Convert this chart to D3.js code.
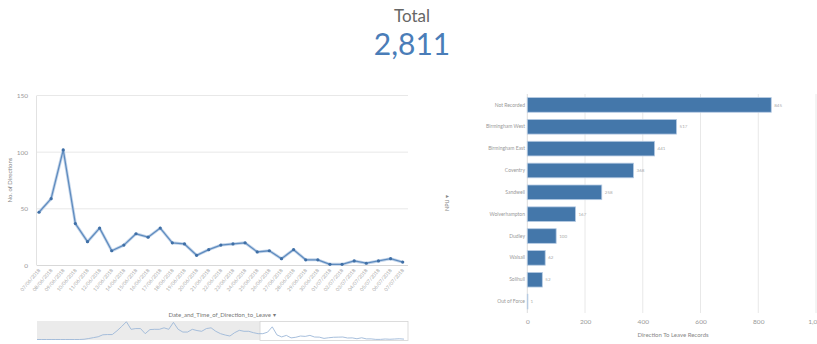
<!DOCTYPE html>
<html><head><meta charset="utf-8">
<script src="https://cdn.jsdelivr.net/npm/d3@7"></script>
<style>
html,body{margin:0;padding:0;background:#fff;overflow:hidden;}
svg{display:block;font-family:Lato, "Open Sans", sans-serif;}
</style></head><body>
<svg id="c" width="817" height="344"></svg>
<script>
// ---- data ----
const kpiTitle = "Total";
const kpiValue = 2811;

const dates = ["07/06/2018","08/06/2018","09/06/2018","10/06/2018","11/06/2018","12/06/2018","13/06/2018","14/06/2018","15/06/2018","16/06/2018","17/06/2018","18/06/2018","19/06/2018","20/06/2018","21/06/2018","22/06/2018","23/06/2018","24/06/2018","25/06/2018","26/06/2018","27/06/2018","28/06/2018","29/06/2018","30/06/2018","01/07/2018","02/07/2018","03/07/2018","04/07/2018","05/07/2018","06/07/2018","07/07/2018"];
const directions = [47,59,102,37,21,33,13,18,28,25,33,20,19,9,14,18,19,20,12,13,6,14,5,5,1,1,4,2,4,6,3];
const lineTicks = [0,50,100,150];

// navigator: earlier days (before the selected range) followed by the selected range
const earlierDirections = [0,0,0,0,0,0,0,0,0,0,2,8,15,22,38,40,40,70,105,143,82,88,88,47,80,82,82,94,82,138,82,60,60,82,72,66,88,94,66,47,36,28,55,74,66,66,55,47];
const navValues = earlierDirections.concat(directions);

const npu = ["Not Recorded","Birmingham West","Birmingham East","Coventry","Sandwell","Wolverhampton","Dudley","Walsall","Solihull","Out of Force"];
const npuRecords = [845,517,441,368,258,167,100,62,52,1];
const barTicks = [0,200,400,600,800,1000];

// ---- styles ----
const blue = "#4477aa";
const grid = "#e8e8e8";
const txt = "#999";

const svg = d3.select("#c");

// KPI
svg.append("text").attr("x",412).attr("y",22).attr("text-anchor","middle")
  .attr("font-size",17).attr("fill","#666").text(kpiTitle);
svg.append("text").attr("x",412).attr("y",55).attr("text-anchor","middle")
  .attr("font-size",30).attr("fill","#4a7db8").text(d3.format(",")(kpiValue));

// ---- line chart ----
const lx = d3.scaleLinear().domain([0, dates.length-1]).range([39, 402.7]);
const ly = d3.scaleLinear().domain([0,150]).range([265.5, 95.5]);
const L = svg.append("g");

L.selectAll("line.g").data(lineTicks.slice(1)).join("line")
  .attr("x1",37).attr("x2",408).attr("y1",d=>ly(d)).attr("y2",d=>ly(d))
  .attr("stroke",grid).attr("stroke-width",1);
L.append("line").attr("x1",37).attr("x2",408).attr("y1",ly(0)).attr("y2",ly(0)).attr("stroke","#d8d8d8");
L.append("line").attr("x1",36.5).attr("x2",36.5).attr("y1",ly(150)).attr("y2",ly(0)).attr("stroke","#e2e2e2");

const yAxis = d3.axisLeft(ly).tickValues(lineTicks).tickSize(0).tickPadding(4);
const ya = L.append("g").attr("transform","translate(32,0)").call(yAxis);
ya.select(".domain").remove();
ya.selectAll("text").attr("font-size",6.5).attr("fill",txt).attr("font-family","Lato, sans-serif");

L.append("text").attr("transform","translate(12,180) rotate(-90)").attr("text-anchor","middle")
  .attr("font-size",6).attr("fill","#888").text("No. of Directions");

const xAxis = d3.axisBottom(lx).tickValues(d3.range(dates.length)).tickFormat(i=>dates[i]).tickSize(0).tickPadding(0);
const xa = L.append("g").attr("transform",`translate(0,${ly(0)+4})`).call(xAxis);
xa.select(".domain").remove();
xa.selectAll("text").attr("font-size",5).attr("fill","#aaa").attr("font-family","Lato, sans-serif")
  .attr("text-anchor","end").attr("dy","0.3em").attr("transform","rotate(-50)");

L.append("text").attr("x",222).attr("y",317).attr("text-anchor","middle")
  .attr("font-size",6).attr("fill","#777").text("Date_and_Time_of_Direction_to_Leave  \u25BE");

const line = d3.line().x((d,i)=>lx(i)).y(d=>ly(d));
L.append("path").datum(directions).attr("d",line).attr("fill","none")
  .attr("stroke","#c4d5ea").attr("stroke-width",3).attr("stroke-linejoin","round");
L.append("path").datum(directions).attr("d",line).attr("fill","none")
  .attr("stroke","#5f8cbf").attr("stroke-width",1.3).attr("stroke-linejoin","round");
L.selectAll("circle").data(directions).join("circle")
  .attr("cx",(d,i)=>lx(i)).attr("cy",d=>ly(d)).attr("r",1.6).attr("fill","#3f6fa6");

// navigator
const nx = d3.scaleLinear().domain([0, navValues.length-1]).range([37, 404]);
const ny = d3.scaleLinear().domain([0, 145]).range([339.5, 321.5]);
const selStart = nx(earlierDirections.length - 0.6);
svg.append("rect").attr("x",37).attr("y",321).attr("width",selStart-37).attr("height",19).attr("fill","#ebebeb");
svg.append("rect").attr("x",selStart).attr("y",321.5).attr("width",408-selStart).attr("height",19).attr("fill","#fff")
  .attr("stroke","#d4d4d4").attr("stroke-width",0.8);
svg.append("path").datum(navValues).attr("fill","none").attr("stroke","#9db8d8").attr("stroke-width",0.9)
  .attr("d", d3.line().x((d,i)=>nx(i)).y(d=>ny(d)));

// ---- bar chart ----
const bx = d3.scaleLinear().domain([0,1000]).range([527.3, 816]);
const by = d3.scaleBand().domain(npu).range([94, 312.5]).paddingInner(0.33).paddingOuter(0.165);
const B = svg.append("g");

B.selectAll("line.g").data(barTicks).join("line")
  .attr("x1",d=>bx(d)).attr("x2",d=>bx(d)).attr("y1",94).attr("y2",313)
  .attr("stroke",d=>d===0?"#dcdcdc":grid).attr("stroke-width",1);

const bxa = B.append("g").attr("transform","translate(0,319)")
  .call(d3.axisBottom(bx).tickValues(barTicks).tickSize(0).tickPadding(0));
bxa.select(".domain").remove();
bxa.selectAll("text").attr("font-size",6.5).attr("fill",txt).attr("font-family","Lato, sans-serif");

B.append("text").attr("x",673).attr("y",336.5).attr("text-anchor","middle")
  .attr("font-size",6).attr("fill","#888").text("Direction To Leave Records");

const bya = B.append("g").attr("transform","translate(525,0)")
  .call(d3.axisLeft(by).tickSize(0).tickPadding(0));
bya.select(".domain").remove();
bya.selectAll("text").attr("font-size",5).attr("fill","#999").attr("font-family","Lato, sans-serif");

B.append("text").attr("transform","translate(449,203) rotate(-90)").attr("text-anchor","middle")
  .attr("font-size",5.5).attr("fill","#888").text("NPU  \u25BE");

B.selectAll("rect.bar").data(npu).join("rect").attr("class","bar")
  .attr("x",bx(0)).attr("y",d=>by(d)).attr("height",by.bandwidth())
  .attr("width",(d,i)=>Math.max(0.6,bx(npuRecords[i])-bx(0)))
  .attr("fill",blue).attr("stroke","#b6cbe3").attr("stroke-width",0.8);

B.selectAll("text.val").data(npu).join("text").attr("class","val")
  .attr("x",(d,i)=>bx(npuRecords[i])+3).attr("y",d=>by(d)+by.bandwidth()/2).attr("dy","0.35em")
  .attr("font-size",4.5).attr("fill","#aaa").text((d,i)=>npuRecords[i]);
</script>
</body></html>
